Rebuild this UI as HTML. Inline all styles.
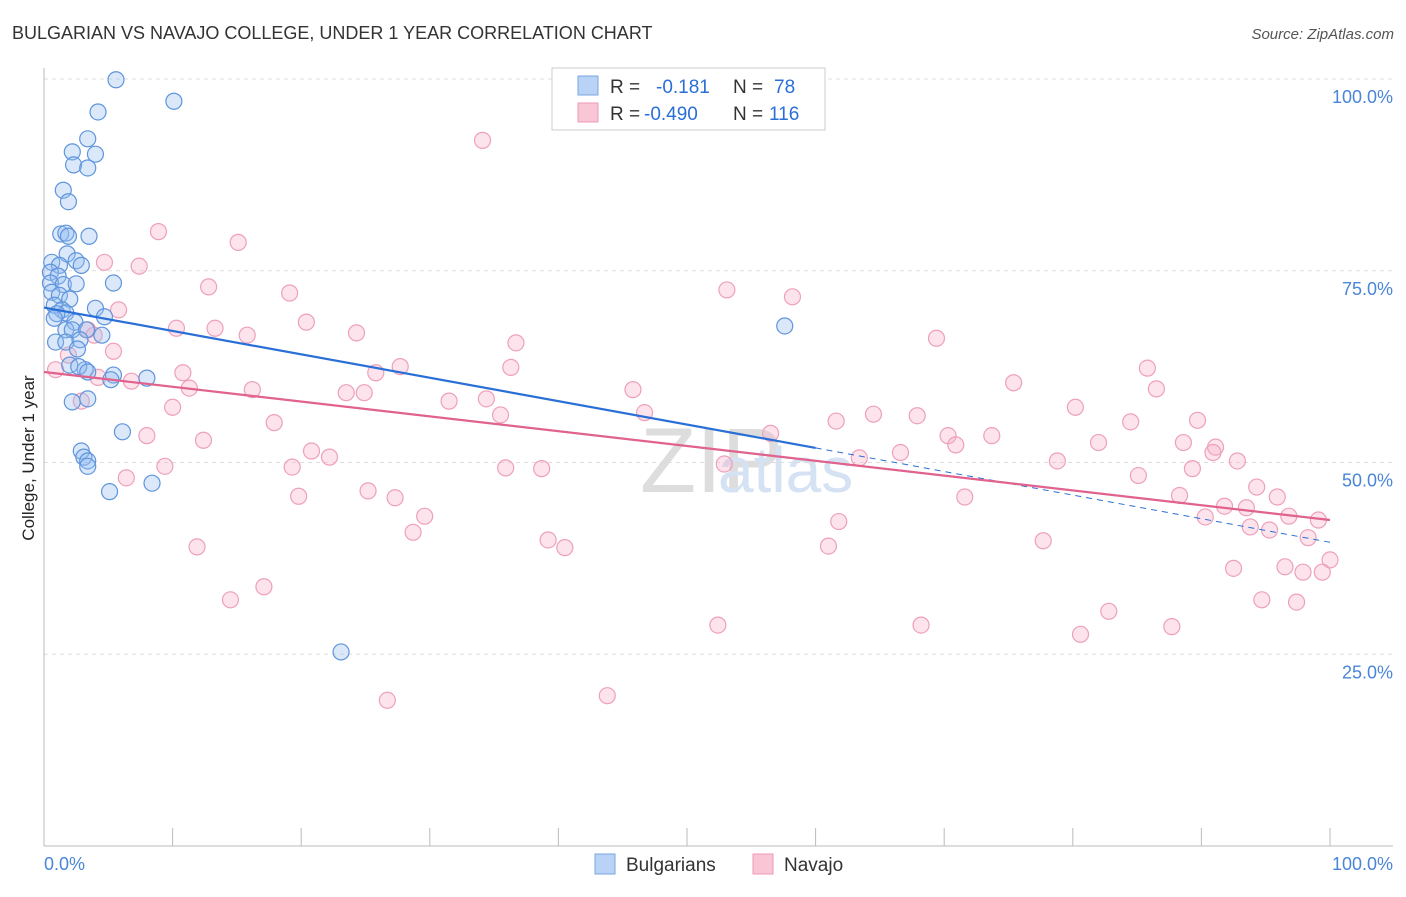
<!DOCTYPE html>
<html><head><meta charset="utf-8">
<style>
body{margin:0;background:#fff;font-family:"Liberation Sans",sans-serif;}
svg text{font-family:"Liberation Sans",sans-serif;}
</style></head>
<body>
<svg id="chart" width="1406" height="892" xmlns="http://www.w3.org/2000/svg">
<text x="12" y="39" font-size="18" fill="#333">BULGARIAN VS NAVAJO COLLEGE, UNDER 1 YEAR CORRELATION CHART</text>
<text x="1394" y="39" font-size="15" fill="#555" font-style="italic" text-anchor="end">Source: ZipAtlas.com</text>
<text x="34" y="458" font-size="17" fill="#222" text-anchor="middle" transform="rotate(-90 34 458)">College, Under 1 year</text>
<text x="640" y="492" font-size="92" fill="#ddd" font-family="Liberation Serif">ZIP</text>
<text x="718" y="492" font-size="64" fill="#d4e2f4">atlas</text>
<g id="grid"></g><g id="axes"></g><g id="pts"></g><g id="lines"></g>
<g>
<rect x="552" y="68" width="273" height="62" fill="#fff" stroke="#ccc"/>
<rect x="578" y="76" width="20" height="19" fill="#b8d3f5" stroke="#7aa7e0"/>
<rect x="578" y="103" width="20" height="19" fill="#f9c6d6" stroke="#ec9ab5"/>
<text x="610" y="93" font-size="19" fill="#333">R = </text><text x="656" y="93" font-size="19" fill="#2a6fd6">-0.181</text>
<text x="733" y="93" font-size="19" fill="#333">N = </text><text x="774" y="93" font-size="19" fill="#2a6fd6">78</text>
<text x="610" y="120" font-size="19" fill="#333">R = </text><text x="644" y="120" font-size="19" fill="#2a6fd6">-0.490</text>
<text x="733" y="120" font-size="19" fill="#333">N = </text><text x="769" y="120" font-size="19" fill="#2a6fd6">116</text>
</g>
<g>
<rect x="595" y="854" width="20" height="20" fill="#b8d3f5" stroke="#7aa7e0"/>
<text x="626" y="871" font-size="19" fill="#333">Bulgarians</text>
<rect x="753" y="854" width="20" height="20" fill="#f9c6d6" stroke="#ec9ab5"/>
<text x="784" y="871" font-size="19" fill="#333">Navajo</text>
</g>
</svg>
<script>
const blueX=[5.6,10.1,4.2,3.4,2.2,4.0,2.3,3.4,1.5,1.9,1.3,1.7,1.9,3.5,1.8,0.6,1.2,2.5,2.9,0.5,1.1,5.4,0.5,1.5,2.5,0.6,1.2,2.0,0.8,4.0,1.4,1.7,1.0,0.8,4.7,2.4,1.7,2.2,3.3,4.5,0.9,1.7,2.8,2.6,2.0,3.2,2.7,3.4,5.4,8.0,5.2,2.2,3.4,6.1,2.9,3.1,3.4,3.4,5.1,8.4,57.6,23.1];
const blueY=[99.9,97.1,95.7,92.2,90.5,90.2,88.8,88.4,85.5,84.0,79.8,79.9,79.5,79.5,77.2,76.1,75.7,76.3,75.7,74.8,74.3,73.4,73.4,73.2,73.3,72.2,71.8,71.3,70.5,70.1,69.9,69.5,69.4,68.8,69.0,68.3,67.3,67.3,67.3,66.6,65.7,65.7,66.0,64.8,62.7,62.1,62.5,61.8,61.4,61.0,60.8,57.9,58.3,54.0,51.5,50.7,50.2,49.5,46.2,47.3,67.8,25.3];
const pinkX=[34.1,8.9,15.1,7.4,4.7,12.8,19.1,53.1,58.2,5.8,20.4,10.3,13.3,24.3,15.8,3.4,3.9,36.7,69.4,5.4,1.9,27.7,36.3,85.8,0.9,10.8,25.8,4.2,6.8,75.4,45.8,11.3,16.2,23.5,24.9,86.5,31.5,34.4,2.9,10.0,80.2,46.7,35.5,64.5,67.9,61.6,84.5,89.7,17.9,8.0,56.5,70.3,73.7,12.4,70.9,82.0,88.6,91.1,20.8,22.2,66.6,90.9,63.4,78.8,92.8,9.4,19.3,35.9,38.7,52.9,89.3,6.4,85.1,94.3,25.2,19.8,27.3,71.6,88.3,95.9,91.8,93.5,29.6,90.3,96.8,99.1,61.8,93.8,95.3,28.7,77.7,39.2,98.3,11.9,40.5,61.0,100,92.5,96.5,97.9,99.4,17.1,14.5,94.7,97.4,82.8,52.4,68.2,87.7,80.6,26.7,43.8];
const pinkY=[92.0,80.1,78.7,75.6,76.1,72.9,72.1,72.5,71.6,69.9,68.3,67.5,67.5,66.9,66.6,67.3,66.6,65.6,66.2,64.5,64.0,62.5,62.4,62.3,62.1,61.7,61.7,61.1,60.6,60.4,59.5,59.7,59.5,59.1,59.1,59.6,58.0,58.3,58.0,57.2,57.2,56.5,56.2,56.3,56.1,55.4,55.3,55.5,55.2,53.5,53.8,53.5,53.5,52.9,52.3,52.6,52.6,52.0,51.5,50.7,51.3,51.3,50.6,50.2,50.2,49.5,49.4,49.3,49.2,49.8,49.2,48.0,48.3,46.8,46.3,45.6,45.4,45.5,45.7,45.5,44.3,44.1,43.0,42.9,43.0,42.5,42.3,41.6,41.2,40.9,39.8,39.9,40.2,39.0,38.9,39.1,37.3,36.2,36.4,35.7,35.7,33.8,32.1,32.1,31.8,30.6,28.8,28.8,28.6,27.6,19.0,19.6];
const blueTrend=[0,70.2,60,51.9,100,39.6];
const pinkTrend=[0,61.8,100,42.5];
const yTicks=[25,50,75,100];
const xTickVals=[0,10,20,30,40,50,60,70,80,90,100];
const NS="http://www.w3.org/2000/svg";
const X=v=>44+v*12.86, Y=v=>846-v*7.67;
function mk(tag,attrs,parent){const e=document.createElementNS(NS,tag);for(const k in attrs)e.setAttribute(k,attrs[k]);document.getElementById(parent).appendChild(e);return e;}
yTicks.forEach(t=>{
 const l=mk('line',{x1:44,x2:1393,y1:Y(t),y2:Y(t),stroke:'#ddd','stroke-dasharray':'4,4'},'grid');
 
 
 const tx=mk('text',{x:1393,y:Y(t)+24,'font-size':18,fill:'#4a85d8','text-anchor':'end'},'grid');
 tx.textContent=t.toFixed(1)+'%';
 
 
});
const ax=mk('line',{x1:44,x2:1393,y1:846,y2:846,stroke:'#bbb'},'axes');


const ay=mk('line',{x1:44,x2:44,y1:68,y2:846,stroke:'#bbb'},'axes');


xTickVals.forEach(t=>{
 const l=mk('line',{x1:X(t),x2:X(t),y1:828,y2:846,stroke:'#bbb'},'axes');
 
 
});
[[0,'0.0%','start',44],[100,'100.0%','end',1393]].forEach(a=>{
 const t=mk('text',{x:a[3],y:870,'font-size':18,fill:'#4a85d8','text-anchor':a[2]},'axes');
 t.textContent=a[1];
 
 
});
pinkX.forEach((x,i)=>{
 const c=mk('circle',{cx:X(x),cy:Y(pinkY[i]),r:8,fill:'rgba(245,175,200,0.35)',stroke:'#eea0ba','stroke-width':1.2},'pts');
 
 
});
blueX.forEach((x,i)=>{
 const c=mk('circle',{cx:X(x),cy:Y(blueY[i]),r:8,fill:'rgba(150,190,240,0.35)',stroke:'#5f95dc','stroke-width':1.2},'pts');
 
 
});
const b1=mk('line',{x1:X(blueTrend[0]),y1:Y(blueTrend[1]),x2:X(blueTrend[2]),y2:Y(blueTrend[3]),stroke:'#2a6fd6','stroke-width':2.2},'lines');


const b2=mk('line',{x1:X(blueTrend[2]),y1:Y(blueTrend[3]),x2:X(blueTrend[4]),y2:Y(blueTrend[5]),stroke:'#2a6fd6','stroke-width':1,'stroke-dasharray':'6,5'},'lines');


const p1=mk('line',{x1:X(pinkTrend[0]),y1:Y(pinkTrend[1]),x2:X(pinkTrend[2]),y2:Y(pinkTrend[3]),stroke:'#e0628d','stroke-width':2.2},'lines');


</script>
</body></html>
